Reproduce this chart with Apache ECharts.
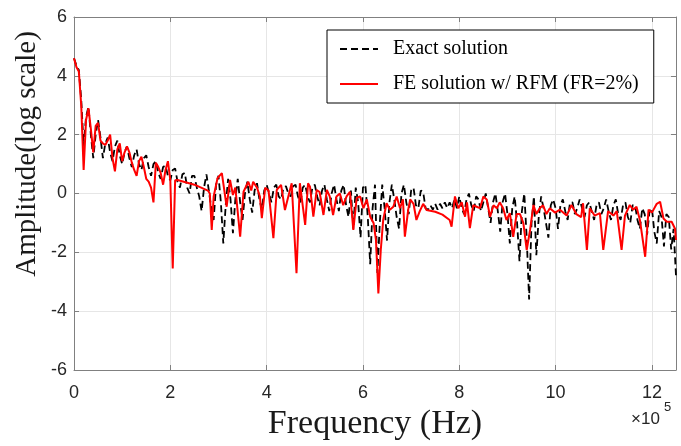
<!DOCTYPE html>
<html>
<head>
<meta charset="utf-8">
<script src="https://cdn.jsdelivr.net/npm/echarts@6/dist/echarts.min.js"></script>
<style>
html,body{margin:0;padding:0;background:#fff;}
#chart{width:681px;height:446px;}
</style>
</head>
<body>
<div id="chart"></div>
<script>
// x axis unit: 1e5 Hz
const xTicks = [0, 2, 4, 6, 8, 10, 12];
const yTicks = [-6, -4, -2, 0, 2, 4, 6];
const seriesNames = ['Exact solution', 'FE solution w/ RFM (FR=2%)'];
const xTitle = 'Frequency (Hz)';
const yTitle = 'Amplitude(log scale)';

// Exact solution: sampled every 0.05 (x1e5 Hz) from 0 to 12.5
const exactStep = 0.05;
const exactAmp = [
  4.6, 4.35, 4.2, 3.2, 1.6, 2.6, 2.95, 2.0, 1.2, 2.0,
  2.5, 1.9, 1.2, 1.7, 1.9, 1.4, 1.1, 1.6, 1.8, 1.3,
  1.0, 1.4, 1.6, 1.2, 0.9, 1.3, 1.5, 1.0, 0.8, 1.2,
  1.3, 0.9, 0.6, 1.0, 1.1, 0.7, 0.5, 0.9, 0.95, 0.6,
  0.45, 0.8, 0.85, 0.4, 0.2, 0.65, 0.7, 0.2, 0.0, 0.6,
  0.6, 0.2, -0.1, -0.6, 0.2, 0.65, 0.1, -0.5, -0.9, 0.3,
  0.6, -0.3, -1.7, -0.4, 0.5, -0.2, -1.35, -0.2, 0.5, -0.3,
  -0.9, 0.0, 0.4, -0.2, -0.65, 0.1, 0.35, -0.2, -0.55, 0.1,
  0.3, 0.0, -0.3, 0.2, 0.3, -0.1, -0.2, 0.2, 0.25, 0.0,
  -0.1, 0.25, 0.3, -0.1, -0.3, 0.2, 0.3, -0.1, -0.3, 0.2,
  0.3, -0.1, -0.4, 0.1, 0.3, -0.2, -0.6, 0.0, 0.3, -0.2,
  -0.6, 0.1, 0.3, -0.4, -0.8, 0.1, -1.2, 0.2, -0.3, -1.5,
  0.2, 0.3, -0.8, -2.4, -0.5, 0.3, -2.7, -1.0, 0.3, -0.5,
  -1.6, -0.3, 0.3, -0.2, -0.8, -1.2, 0.0, 0.3, -0.3, -0.7,
  0.1, 0.2, -0.4, -0.5, 0.1, 0.05, -0.5, -0.55, -0.4, -0.55,
  -0.35, -0.55, -0.35, -0.5, -0.3, -0.5, -0.3, -0.5, -0.2, -0.5,
  -0.1, -0.5, -0.7, -0.2, 0.0, -0.4, -0.6, -0.1, -0.2, -0.6,
  -0.3, 0.0, -0.5, -1.0, -0.3, 0.0, -0.6, -1.3, -0.3, 0.0,
  -0.7, -1.7, -0.5, -0.1, -1.0, -2.3, -0.6, 0.0, -1.5, -3.6,
  -1.0, -0.1, -2.1, -0.8, -0.1, -0.5, -1.0, -1.5, -0.4, -0.2,
  -0.5, -1.2, -0.4, -0.2, -0.6, -0.9, -0.3, -0.3, -0.7, -0.5,
  -0.2, -0.5, -0.8, -0.4, -0.3, -0.6, -0.9, -0.4, -0.3, -0.7,
  -0.5, -0.2, -0.6, -0.9, -0.4, -0.2, -0.7, -0.9, -0.4, -0.3,
  -0.8, -1.0, -0.4, -0.4, -0.9, -1.2, -0.5, -0.7, -1.4, -0.6,
  -0.5, -1.3, -1.7, -0.6, -0.8, -1.8, -0.7, -0.8, -1.9, -1.2,
  -2.8
];

// FE solution w/ RFM
const feFreq = [
  0, 0.05, 0.1, 0.15, 0.2, 0.25, 0.3, 0.35, 0.4, 0.45,
  0.5, 0.55, 0.6, 0.65, 0.7, 0.75, 0.8, 0.85, 0.9, 0.95,
  1.0, 1.05, 1.1, 1.15, 1.2, 1.25, 1.3, 1.35, 1.4, 1.45,
  1.5, 1.55, 1.6, 1.65, 1.7, 1.75, 1.8, 1.85, 1.9, 1.95,
  2.0, 2.05, 2.1, 2.15, 2.5, 2.78, 2.82, 2.86, 2.9, 2.98,
  3.07, 3.17, 3.24, 3.3, 3.35, 3.45, 3.52, 3.62, 3.68, 3.72,
  3.8, 3.86, 3.9, 3.97, 4.04, 4.14, 4.21, 4.3, 4.38, 4.45,
  4.52, 4.62, 4.69, 4.8, 4.86, 4.9, 4.97, 5.04, 5.1, 5.18,
  5.25, 5.31, 5.38, 5.45, 5.52, 5.59, 5.66, 5.73, 5.8, 5.87,
  5.94, 6.01, 6.08, 6.15, 6.22, 6.27, 6.32, 6.37, 6.42, 6.49,
  6.56, 6.63, 6.7, 6.77, 6.83, 6.87, 6.94, 6.98, 7.05, 7.11,
  7.18, 7.25, 7.32, 7.5, 7.65, 7.8, 7.84, 7.91, 7.98, 8.05,
  8.12, 8.16, 8.22, 8.29, 8.36, 8.43, 8.5, 8.57, 8.64, 8.71,
  8.78, 8.84, 8.91, 8.98, 9.05, 9.12, 9.19, 9.26, 9.33, 9.4,
  9.47, 9.54, 9.6, 9.67, 9.74, 9.81, 9.88, 9.99, 10.09, 10.23,
  10.33, 10.43, 10.53, 10.57, 10.65, 10.71, 10.81, 10.92, 10.99, 11.09,
  11.2, 11.27, 11.37, 11.44, 11.54, 11.61, 11.68, 11.75, 11.86, 11.93,
  12.0, 12.1, 12.17, 12.24, 12.31, 12.41, 12.48, 12.5
];
const feAmp = [
  4.6, 4.3, 4.15, 3.0, 0.8, 2.5, 2.9, 2.2, 1.4, 2.3,
  2.4, 1.8, 1.7, 1.65, 1.8, 2.0, 1.2, 0.75, 1.5, 1.7,
  1.1, 1.4, 1.6, 1.4, 1.05, 0.8, 0.6, 1.1, 1.25, 0.9,
  0.5, 0.4, 0.2, -0.3, 1.05, 0.9, 0.7, 0.3, 0.8, 1.1,
  0.45, -2.55, 0.45, 0.46, 0.3, 0.1, 0.0, -1.24, -0.1, 0.52,
  0.69, -0.45, 0.46, -0.05, 0.2, -1.47, 0.06, 0.4, 0.1, 0.4,
  0.2, -0.1, -0.84, 0.19, 0.1, -1.52, 0.12, 0.29, -0.56, -0.1,
  0.35, -2.71, 0.35, -1.07, 0.35, 0.23, -0.79, 0.12, 0.05, -0.73,
  0.12, -0.1, -0.73, -0.1, 0.0, -0.4, -0.1, 0.06, -1.24, -0.15,
  -0.1, -0.5, -0.2, -0.79, -1.0, -1.58, -3.4, -1.92, -0.9, -0.33,
  -0.55, -0.45, -0.1, -0.5, -0.2, -1.47, -0.55, -0.2, -0.35, -0.9,
  -0.6, -0.35, -0.56, -0.62, -0.72, -0.9, -1.13, -0.1, -0.5, -0.3,
  -0.79, -0.3, -1.18, -0.4, -0.45, -0.5, -0.1, -0.2, -0.79, -0.4,
  -0.5, -0.3, -0.5, -0.9, -0.67, -1.47, -0.7, -0.7, -1.0, -1.92,
  -1.24, -0.39, -0.7, -0.5, -0.4, -0.7, -0.5, -0.65, -0.55, -0.75,
  -0.39, -0.7, -0.8, -0.33, -1.92, -0.5, -0.75, -0.67, -1.92, -0.6,
  -0.75, -0.6, -1.92, -0.75, -0.39, -0.55, -0.45, -0.9, -2.15, -0.55,
  -0.65, -0.35, -0.28, -0.85, -0.96, -0.96, -1.2, -1.58
];

const exactData = exactAmp.map((v, i) => [+(i * exactStep).toFixed(2), v]);
const feData = feFreq.map((f, i) => [f, feAmp[i]]);

const axisColor = '#808080';
const gridColor = '#e6e6e6';
const labelColor = '#262626';

function axisCommon(extra) {
  return Object.assign({
    axisLine: {show: true, onZero: false, lineStyle: {color: axisColor, width: 1}},
    axisTick: {show: true, inside: true, length: 5, lineStyle: {color: axisColor}}
  }, extra);
}

const chart = echarts.init(document.getElementById('chart'), null, {renderer: 'canvas'});
chart.setOption({
  animation: false,
  backgroundColor: '#ffffff',
  grid: {left: 74, right: 5, top: 17, bottom: 76, containLabel: false, outerBoundsMode: 'none'},
  legend: {
    orient: 'vertical',
    left: 327, top: 30,
    padding: [9, 15, 9, 12],
    itemGap: 15,
    itemWidth: 38, itemHeight: 20,
    backgroundColor: '#ffffff',
    borderColor: '#000000', borderWidth: 1,
    itemStyle: {opacity: 0},
    textStyle: {fontFamily: 'Liberation Serif', fontSize: 20, color: '#000', padding: [0, 0, 0, 10]},
    data: seriesNames
  },
  xAxis: [axisCommon({
    type: 'value', min: 0, max: 12.5, interval: 2,
    name: xTitle, nameLocation: 'middle', nameGap: 36,
    nameTextStyle: {fontFamily: 'Liberation Serif', fontSize: 34, color: '#1a1a1a'},
    axisLabel: {fontFamily: 'Liberation Sans', fontSize: 18, color: labelColor, margin: 14,
      formatter: v => (xTicks.indexOf(v) >= 0 ? String(v) : '')},
    splitLine: {show: true, lineStyle: {color: gridColor, width: 1}}
  }), axisCommon({
    type: 'value', position: 'top', min: 0, max: 12.5, interval: 2,
    axisLabel: {show: false}, splitLine: {show: false}
  })],
  yAxis: [axisCommon({
    type: 'value', min: -6, max: 6, interval: 2,
    axisLabel: {fontFamily: 'Liberation Sans', fontSize: 18, color: labelColor, margin: 7,
      formatter: v => (yTicks.indexOf(v) >= 0 ? String(v) : '')},
    splitLine: {show: true, lineStyle: {color: gridColor, width: 1}}
  }), axisCommon({
    type: 'value', position: 'right', min: -6, max: 6, interval: 2,
    axisLabel: {show: false}, splitLine: {show: false}
  })],
  graphic: [
    {type: 'text', x: 27, y: 154, rotation: Math.PI / 2,
      style: {text: yTitle, fontFamily: 'Liberation Serif', fontSize: 29, fill: '#1a1a1a',
        align: 'center', verticalAlign: 'middle', textAlign: 'center', textVerticalAlign: 'middle'}},
    {type: 'text', left: 631, top: 411, style: {text: '×10', fontFamily: 'Liberation Sans', fontSize: 17, fill: labelColor}},
    {type: 'text', left: 664, top: 401, style: {text: '5', fontFamily: 'Liberation Sans', fontSize: 13, fill: labelColor}}
  ],
  series: [{
    name: seriesNames[0], type: 'line', data: exactData,
    symbol: 'none', showSymbol: false,
    lineStyle: {color: '#000000', width: 1.8, type: [7, 4]},
    itemStyle: {color: '#000000'}, z: 2
  }, {
    name: seriesNames[1], type: 'line', data: feData,
    symbol: 'none', showSymbol: false,
    lineStyle: {color: '#ff0000', width: 2},
    itemStyle: {color: '#ff0000'}, z: 3
  }]
});
</script>
</body>
</html>
